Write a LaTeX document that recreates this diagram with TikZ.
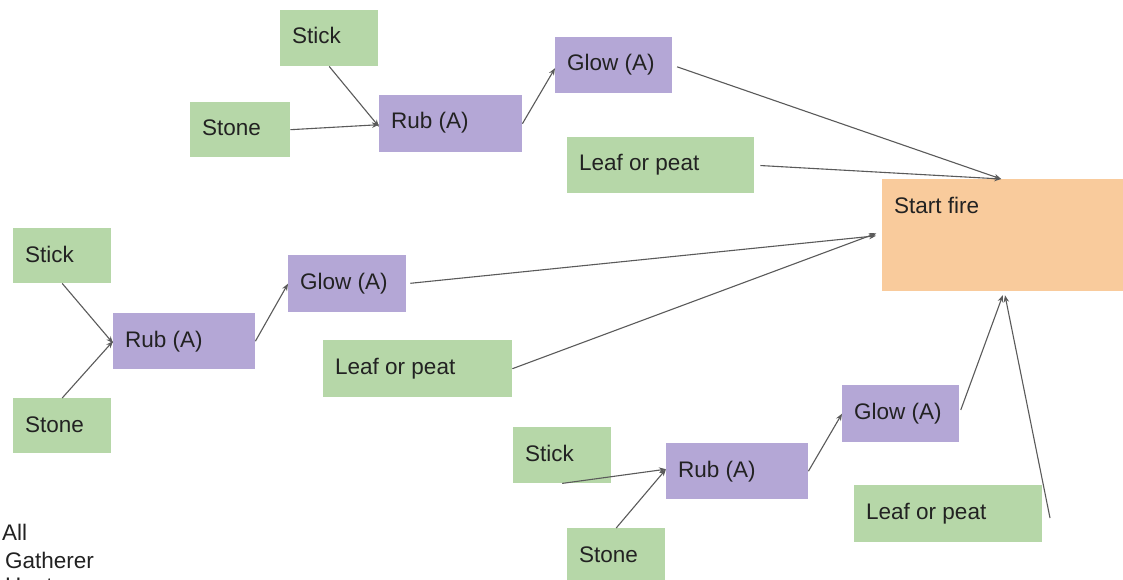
\documentclass[tikz,border=0pt]{standalone}
\usepackage{fontspec}
\setmainfont{Liberation Sans}
\usetikzlibrary{arrows.meta}
\definecolor{gfill}{HTML}{B6D7A8}
\definecolor{pfill}{HTML}{B4A7D6}
\definecolor{ofill}{HTML}{F9CB9C}
\definecolor{txt}{HTML}{222222}
\definecolor{arr}{HTML}{5A5A5A}
\tikzset{
  gbox/.style={fill=gfill, inner sep=0pt},
  pbox/.style={fill=pfill, inner sep=0pt},
  obox/.style={fill=ofill, inner sep=0pt},
  lbl/.style={anchor=base west, inner sep=0pt, text=txt, font=\fontsize{22.5}{27}\selectfont},
  conn/.style={draw=arr, line width=1.1pt, -{Stealth[length=7pt,width=5.5pt]}},
}
\newcommand\flowbox[7]{%
  \node[#2, anchor=north west, minimum width={#5-#3}, minimum height={#6-#4}] (#1) at (#3,#4) {};
  \node[lbl] (#1-t) at ([shift={(12,34)}]#1.north west) {#7};}
\begin{document}
\begin{tikzpicture}[x=1pt,y=-1pt]
\useasboundingbox (0,0) rectangle (1123,580);
\clip (0,0) rectangle (1123,580);
\fill[white] (0,0) rectangle (1123,580);
% top cluster
\flowbox{stickA}{gbox}{280}{10}{378}{66}{Stick}
\flowbox{stoneA}{gbox}{190}{102}{290}{157}{Stone}
\flowbox{rubA}{pbox}{379}{95}{522}{152}{Rub (A)}
\flowbox{glowA}{pbox}{555}{37}{672}{93}{Glow (A)}
\flowbox{leafA}{gbox}{567}{137}{754}{193}{Leaf or peat}
\flowbox{start}{obox}{882}{179}{1126}{291}{Start fire}
% middle cluster
\flowbox{stickB}{gbox}{13}{228}{111}{283}{Stick}
\flowbox{stoneB}{gbox}{13}{398}{111}{453}{Stone}
\flowbox{rubB}{pbox}{113}{313}{255}{369}{Rub (A)}
\flowbox{glowB}{pbox}{288}{255}{406}{312}{Glow (A)}
\flowbox{leafB}{gbox}{323}{340}{512}{397}{Leaf or peat}
% bottom cluster
\flowbox{stickC}{gbox}{513}{427}{611}{483}{Stick}
\flowbox{stoneC}{gbox}{567}{528}{665}{585}{Stone}
\flowbox{rubC}{pbox}{666}{443}{808}{499}{Rub (A)}
\flowbox{glowC}{pbox}{842}{385}{959}{442}{Glow (A)}
\flowbox{leafC}{gbox}{854}{485}{1042}{542}{Leaf or peat}
% connectors
\draw[conn] (stickA.south) -- ([yshift=-3]rubA.west);
\draw[conn] (stoneA.east) -- ([yshift=-1]rubA.west);
\draw[conn] (rubA.east) -- ([yshift=-3]glowA.west);
\draw[conn, shorten <=5pt] (glowA.east) -- ([xshift=-3]start.north);
\draw[conn, shorten <=6pt] (leafA.east) -- ([xshift=-3]start.north);
\draw[conn] (stickB.south) -- ([yshift=-2]rubB.west);
\draw[conn] (stoneB.north) -- (rubB.west);
\draw[conn] (rubB.east) -- (glowB.west);
\draw[conn, shorten <=4pt, shorten >=6pt] (glowB.east) -- (start.west);
\draw[conn, shorten >=6pt] (leafB.east) -- ([yshift=4]start.west);
\draw[conn] (stickC.south) -- ([yshift=2]rubC.west);
\draw[conn] (stoneC.north) -- ([yshift=2]rubC.west);
\draw[conn] (rubC.east) -- (glowC.west);
\draw[conn, shorten <=4pt, shorten >=4pt] (glowC.east) -- (start.south);
\coordinate (leafCend) at (1050,518);
\draw[conn, shorten >=4pt] (leafCend) -- (start.south);
% legend text
\node[lbl] (lgAll) at (2,540) {All};
\node[lbl] (lgGath) at (5,568) {Gatherer};
\node[lbl] (lgHunt) at (5,593) {Hunter};
\end{tikzpicture}
\end{document}
